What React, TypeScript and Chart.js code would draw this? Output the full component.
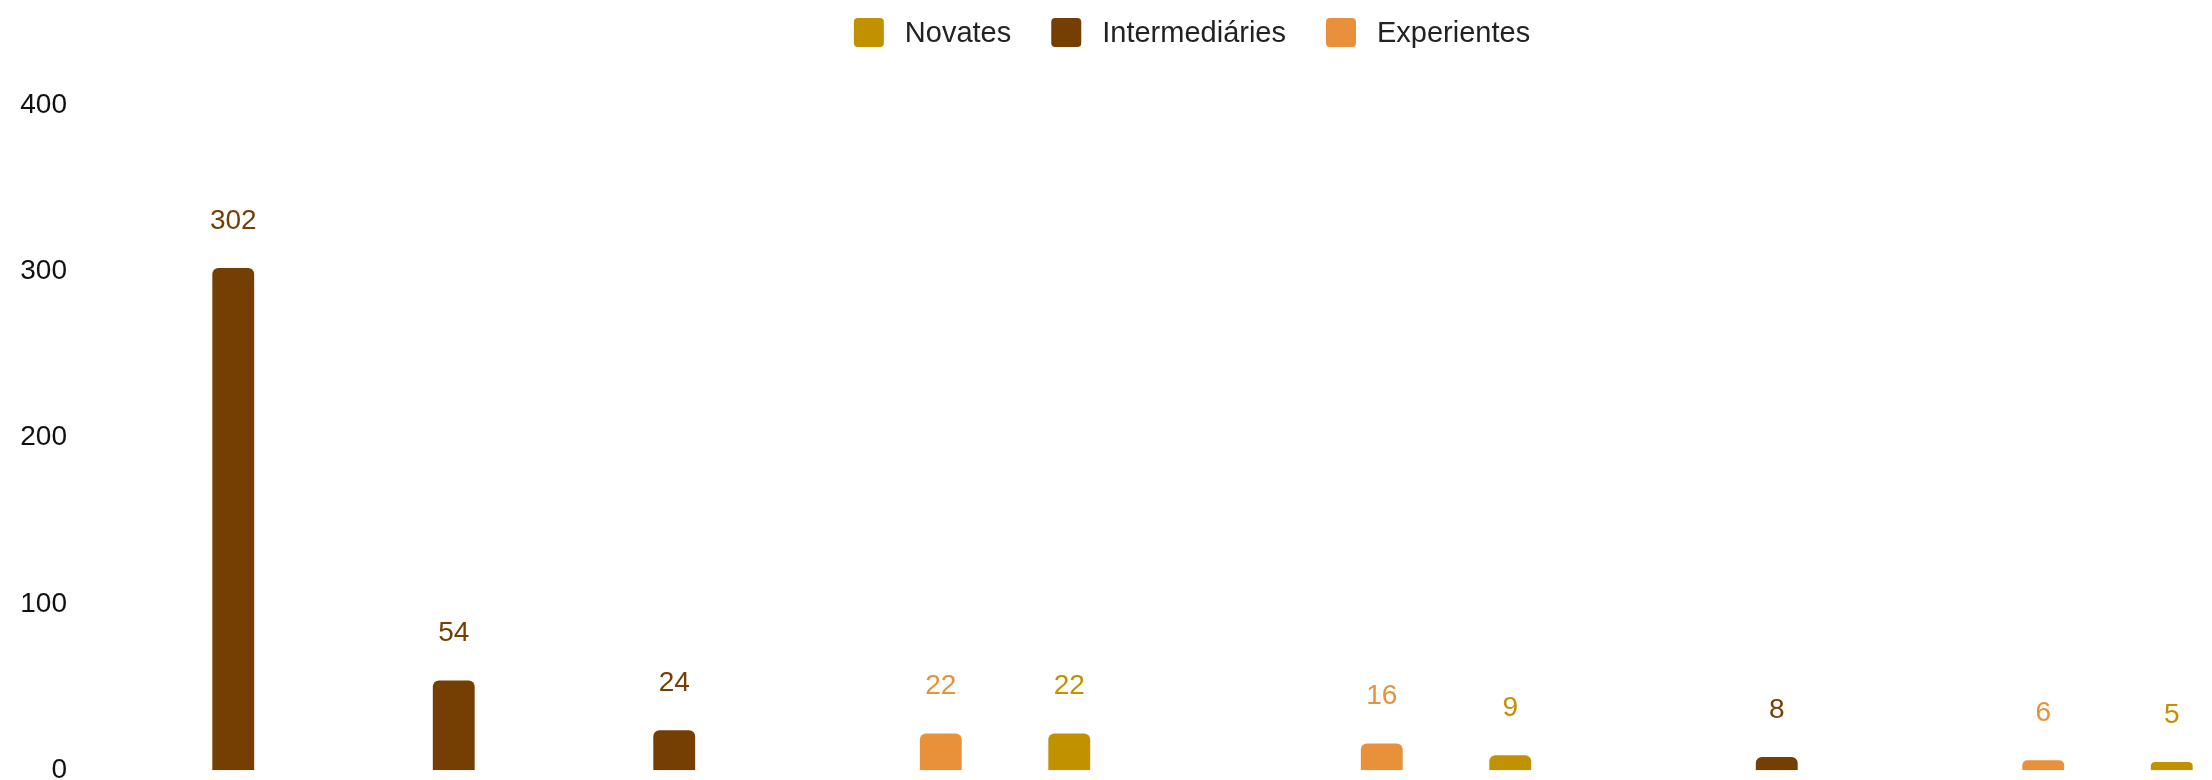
import React, { useEffect, useRef } from "react";
import { Chart, registerables } from "chart.js";

Chart.register(...registerables);

const categories = ["C1", "C2", "C3", "C4", "C5", "C6", "C7", "C8", "C9", "C10"];
const novates = [0, 0, 0, 0, 22, 0, 9, 0, 0, 5];
const intermediaries = [302, 54, 24, 0, 0, 0, 0, 8, 0, 0];
const experientes = [0, 0, 0, 22, 0, 16, 0, 0, 6, 0];
const yTicks = [0, 100, 200, 300, 400];

const seriesLabels = ["Novates", "Intermediáries", "Experientes"];
const seriesColors = ["#C29100", "#753E03", "#E8913A"];

const FONT = "'Liberation Sans', Arial, sans-serif";

const valueLabelPlugin = {
  id: "valueLabels",
  afterDatasetsDraw(chart: any) {
    const ctx = chart.ctx;
    ctx.save();
    ctx.font = `28px ${FONT}`;
    ctx.textAlign = "center";
    ctx.textBaseline = "middle";
    chart.data.datasets.forEach((ds: any, di: number) => {
      const meta = chart.getDatasetMeta(di);
      meta.data.forEach((bar: any, i: number) => {
        const v = ds.data[i];
        if (!v) return;
        ctx.fillStyle = ds.backgroundColor;
        ctx.fillText(String(v), bar.x, bar.y - 47);
      });
    });
    ctx.restore();
  },
};

const legendPlugin = {
  id: "customLegend",
  afterDraw(chart: any) {
    const ctx = chart.ctx;
    ctx.save();
    ctx.font = `29px ${FONT}`;
    ctx.textBaseline = "middle";
    ctx.textAlign = "left";
    const boxW = 30;
    const boxH = 29;
    const gap = 21;
    const spacing = 40;
    const items = chart.data.datasets.map((ds: any) => ({
      text: ds.label,
      color: ds.backgroundColor,
      w: ctx.measureText(ds.label).width,
    }));
    const total =
      items.reduce((s: number, it: any) => s + boxW + gap + it.w, 0) +
      spacing * (items.length - 1);
    let x = chart.width / 2 - total / 2;
    const cy = 24.5;
    items.forEach((it: any) => {
      ctx.fillStyle = it.color;
      ctx.beginPath();
      (ctx as any).roundRect(x, cy - boxH / 2, boxW, boxH, 4);
      ctx.fill();
      ctx.fillStyle = "#222222";
      ctx.fillText(it.text, x + boxW + gap, cy + 1);
      x += boxW + gap + it.w + spacing;
    });
    ctx.restore();
  },
};

export default function App() {
  const canvasRef = useRef<HTMLCanvasElement | null>(null);

  useEffect(() => {
    document.documentElement.style.overflow = "hidden";
    document.body.style.overflow = "hidden";
    const canvas = canvasRef.current;
    if (!canvas) return;
    const datasetsValues = [novates, intermediaries, experientes];
    const chart = new Chart(canvas, {
      type: "bar",
      data: {
        labels: categories,
        datasets: datasetsValues.map((vals, i) => ({
          label: seriesLabels[i],
          data: vals,
          backgroundColor: seriesColors[i],
          borderRadius: 6,
          borderSkipped: "bottom",
          categoryPercentage: 0.626,
          barPercentage: 0.91,
        })),
      },
      options: {
        responsive: false,
        animation: false,
        devicePixelRatio: 1,
        layout: { padding: { top: 97, right: 48, bottom: 0, left: 0 } },
        plugins: {
          legend: { display: false },
          tooltip: { enabled: false },
        },
        scales: {
          x: {
            display: false,
            offset: true,
            grid: { display: false },
          },
          y: {
            min: yTicks[0],
            max: yTicks[yTicks.length - 1],
            afterBuildTicks: (scale: any) => {
              scale.ticks = yTicks.map((v) => ({ value: v }));
            },
            afterFit: (scale: any) => {
              scale.width = 115;
            },
            grid: { display: false, drawTicks: false },
            border: { display: false },
            ticks: {
              padding: 56,
              color: "#111111",
              font: { family: FONT, size: 28 },
            },
          },
        },
      },
      plugins: [valueLabelPlugin, legendPlugin],
    });
    return () => chart.destroy();
  }, []);

  return (
    <div style={{ width: 2204, height: 772, overflow: "hidden", position: "relative" }}>
      <canvas ref={canvasRef} width={2368} height={835} style={{ display: "block" }} />
    </div>
  );
}
